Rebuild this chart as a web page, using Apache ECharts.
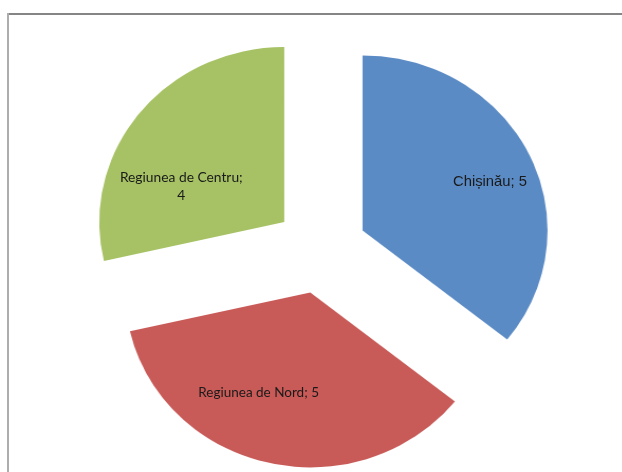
<!DOCTYPE html>
<html><head><meta charset="utf-8">
<script src="https://cdn.jsdelivr.net/npm/echarts@6/dist/echarts.min.js"></script>
<style>
html,body{margin:0;padding:0;background:#fff;overflow:hidden}
#wrap{position:relative;width:622px;height:472px;overflow:hidden}
#pie{position:absolute;left:0;top:0;width:622px;height:472px;transform:scaleX(1.0571);transform-origin:0 0}
#lab{position:absolute;left:0;top:0;width:622px;height:472px;pointer-events:none}
</style>
</head><body><div id="wrap"><div id="pie"></div><div id="lab"></div></div>
<script>
const categories = ['Chișinău', 'Regiunea de Nord', 'Regiunea de Centru'];
const values = [5, 5, 4];
const colors = ['#5B8BC5', '#C85A57', '#A6C264'];
const labelFonts = ['Liberation Sans', 'Lato', 'Lato'];
const labelSizes = [14.8, 13.5, 13.8];
// nudges applied by labelLayout relative to the default inside position
const labelShift = [[46, -9], [-32, 10], [-33, 22]];

// slices (horizontally stretched to an ellipse like the original)
const pieChart = echarts.init(document.getElementById('pie'), null, {renderer: 'canvas'});
pieChart.setOption({
  animation: false,
  series: [{
    type: 'pie',
    center: [303.3, 249.5],
    radius: [0, 175],
    startAngle: 90,
    clockwise: true,
    selectedMode: 'multiple',
    selectedOffset: 44,
    emphasis: {disabled: true},
    label: {show: false},
    labelLine: {show: false},
    data: categories.map((n, i) => ({
      name: n, value: values[i], selected: true, itemStyle: {color: colors[i]}
    }))
  }]
});

// labels and frame (unstretched)
const labChart = echarts.init(document.getElementById('lab'), null, {renderer: 'canvas'});
labChart.setOption({
  animation: false,
  graphic: [
    {type: 'line', shape: {x1: 8, y1: 14, x2: 622, y2: 14}, style: {stroke: '#858585', lineWidth: 2}},
    {type: 'line', shape: {x1: 8, y1: 13, x2: 8, y2: 472}, style: {stroke: '#adadad', lineWidth: 2}}
  ],
  series: [{
    type: 'pie',
    center: [321, 250],
    radius: [0, 175],
    startAngle: 90,
    clockwise: true,
    selectedMode: 'multiple',
    selectedOffset: 46,
    avoidLabelOverlap: false,
    silent: true,
    emphasis: {disabled: true},
    itemStyle: {color: 'rgba(0,0,0,0)'},
    label: {
      show: true,
      position: 'inside',
      color: '#1a1a1a',
      lineHeight: 18,
      align: 'center'
    },
    labelLine: {show: false},
    labelLayout: function (p) {
      return {dx: labelShift[p.dataIndex][0], dy: labelShift[p.dataIndex][1]};
    },
    data: categories.map((n, i) => ({
      name: n,
      value: values[i],
      selected: true,
      label: {
        fontFamily: labelFonts[i],
        fontSize: labelSizes[i],
        formatter: i === 2 ? '{b};\n{c}' : '{b}; {c}'
      }
    }))
  }]
});
</script></body></html>
